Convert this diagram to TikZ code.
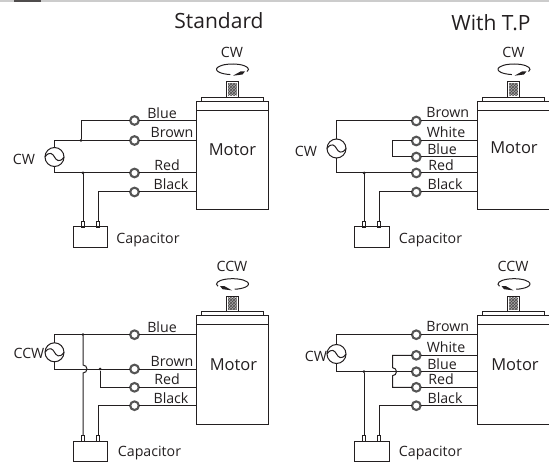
\documentclass[tikz,border=0pt]{standalone}
\usepackage{fontspec}
\setmainfont{Open Sans}
\usetikzlibrary{patterns}
\definecolor{ink}{HTML}{231F20}
\definecolor{ringc}{HTML}{555555}
\tikzset{
  x=1pt,y=-1pt,
  wire/.style={draw=ink,line width=1pt},
  term/.style={circle,draw=ringc,fill=white,line width=2.1pt,minimum size=8.6pt,inner sep=0pt,outer sep=0pt},
  dotj/.style={circle,fill=ink,minimum size=3pt,inner sep=0pt,outer sep=0pt},
  src/.style={circle,draw=ink,line width=1pt,minimum size=19pt,inner sep=0pt,outer sep=0pt},
  pin/.style={rectangle,draw=ink,line width=0.9pt,minimum width=3.5pt,minimum height=6pt,inner sep=0pt,outer sep=0pt},
  capbox/.style={rectangle,draw=ink,line width=1pt,minimum width=34.5pt,minimum height=21pt,inner sep=0pt,outer sep=0pt},
  lab/.style={text=ink,font=\fontsize{14.2}{14.2}\selectfont,inner sep=0pt},
  bigl/.style={text=ink,font=\fontsize{16.5}{16.5}\selectfont,inner sep=0pt},
  title/.style={text=ink,font=\fontsize{21}{21}\selectfont,inner sep=0pt},
  motorbox/.style={rectangle,draw=ink,line width=1pt,anchor=north west,inner sep=0pt,outer sep=0pt},
}
% #1 prefix, #2 left x, #3 top y, #4 width, #5 height
\newcommand{\motorblock}[5]{%
  \node[motorbox,minimum width=#4pt,minimum height=#5pt] (#1m) at (#2,#3) {};
  \draw[wire] (#2,#3+9) -- ++(#4,0);
  \draw[wire,fill=white] (#2+5.5,#3) rectangle ++(62,-4);
  \draw[wire,fill=white] (#2+30.5,#3-4) rectangle ++(11.5,-15.5);
  \fill[gray!70] (#2+32,#3-6) rectangle ++(8.5,-12);
  \fill[pattern=crosshatch,pattern color=ink!80] (#2+32,#3-6) rectangle ++(8.5,-12);
}
% #1 centre x, #2 centre y, #3 xscale
\newcommand{\rotsign}[3]{%
  \begin{scope}[shift={(#1,#2)},xscale=#3]
    \draw[wire] (0,0) ++(25:16 and 5.3) arc[start angle=25,end angle=-262,x radius=16,y radius=5.3];
    \fill[ink] (0.5,6.4) -- (8,2.2) -- (12.5,2) -- (10,5.2) -- cycle;
  \end{scope}
}
% #1 node name, #2 x, #3 y
\newcommand{\acsource}[3]{%
  \node[src] (#1) at (#2,#3) {};
  \draw[wire] (#2-9.5,#3) .. controls (#2-5,#3-6.5) and (#2-1.5,#3-3) .. (#2,#3)
     .. controls (#2+1.5,#3+3) and (#2+5,#3+6.5) .. (#2+9.5,#3);
}
\begin{document}
\begin{tikzpicture}
\clip[use as bounding box] (0,0) rectangle (549,462);
\fill[gray!40] (0,0) rectangle (549,2.5);
\fill[ink!80] (14,0) rectangle (41,2.5);

\node[title] (tstd) at (219,21) {Standard};
\node[title] (ttp) at (491,22.5) {With T.P};

%%% ---------- top left
\motorblock{a}{196}{101.5}{72.5}{108.5}
\rotsign{232.5}{69.3}{1}
\node[lab] (acw) at (232,52.5) {CW};
\node[bigl] (amot) at (232.5,150) {Motor};
\acsource{as}{54.5}{157}
\node[lab] (asl) at (24,159.5) {CW};
\node[term] (a1) at (134.5,120.5) {};
\node[term] (a2) at (134.5,140.5) {};
\node[term] (a3) at (134.5,173) {};
\node[term] (a4) at (134.5,192) {};
\coordinate (am1) at (196,120.5);
\coordinate (am2) at (196,140.5);
\coordinate (am3) at (196,173);
\coordinate (am4) at (196,192);
\node[dotj] (aj1) at (81,140.5) {};
\node[dotj] (aj2) at (83,173) {};
\node[capbox,anchor=north west] (ac) at (73,227) {};
\node[pin] (ap1) at (83,224) {};
\node[pin] (ap2) at (98,224) {};
\draw[wire] (a1) -- (am1) (a2) -- (am2) (a3) -- (am3) (a4) -- (am4);
\draw[wire] (a1) -| (aj1);
\draw[wire] (a2) -| (as);
\draw[wire] (a3) -| (as);
\draw[wire] (aj2) -- (ap1);
\draw[wire] (a4) -| (ap2);
\node[lab] (al1) at (162,113) {Blue};
\node[lab] (al2) at (172,133) {Brown};
\node[lab] (al3) at (167,165) {Red};
\node[lab] (al4) at (171,184.5) {Black};
\node[lab] (alc) at (148,239.5) {Capacitor};

%%% ---------- top right
\motorblock{b}{477.3}{101.5}{120}{108.5}
\rotsign{514}{69.3}{1}
\node[lab] (bcw) at (513.5,52.5) {CW};
\node[bigl] (bmot) at (514,147.5) {Motor};
\acsource{bs}{336.5}{148.5}
\node[lab] (bsl) at (306,151) {CW};
\node[term] (b1) at (416.3,121) {};
\node[term] (b2) at (416.3,141) {};
\node[term] (b3) at (416.3,157) {};
\node[term] (b4) at (416.3,173) {};
\node[term] (b5) at (416.3,192) {};
\coordinate (bm1) at (477.3,121);
\coordinate (bm2) at (477.3,141);
\coordinate (bm3) at (477.3,157);
\coordinate (bm4) at (477.3,173);
\coordinate (bm5) at (477.3,192);
\coordinate (bl1) at (392.5,141);
\coordinate (bl2) at (392.5,157);
\node[dotj] (bj) at (364,173) {};
\node[capbox,anchor=north west] (bc) at (354.5,227) {};
\node[pin] (bp1) at (364,224) {};
\node[pin] (bp2) at (379,224) {};
\draw[wire] (b1) -- (bm1) (b2) -- (bm2) (b3) -- (bm3) (b4) -- (bm4) (b5) -- (bm5);
\draw[wire] (b1) -| (bs);
\draw[wire] (b4) -| (bs);
\draw[wire] (b2) -- (bl1) -- (bl2) -- (b3);
\draw[wire] (bj) -- (bp1);
\draw[wire] (b5) -| (bp2);
\node[lab] (bl1t) at (447.7,112.5) {Brown};
\node[lab] (bl2t) at (446,132.5) {White};
\node[lab] (bl3t) at (442,149.5) {Blue};
\node[lab] (bl4t) at (441,165) {Red};
\node[lab] (bl5t) at (445,184.5) {Black};
\node[lab] (blc) at (430.5,239.5) {Capacitor};

%%% ---------- bottom left
\motorblock{c}{196}{315.7}{72.5}{108.5}
\rotsign{232.5}{284}{-1}
\node[lab] (ccw) at (232,266.5) {CCW};
\node[bigl] (cmot) at (233.5,364.5) {Motor};
\acsource{cs}{54.5}{352.3}
\node[lab] (csl) at (29,353) {CCW};
\node[term] (c1) at (134.5,334.7) {};
\node[term] (c2) at (134.5,369) {};
\node[term] (c3) at (134.5,387.3) {};
\node[term] (c4) at (134.5,405.7) {};
\coordinate (cm1) at (196,334.7);
\coordinate (cm2) at (196,369);
\coordinate (cm3) at (196,387.3);
\coordinate (cm4) at (196,405.7);
\node[dotj] (cj1) at (83,334.7) {};
\node[dotj] (cj2) at (100,369) {};
\coordinate (ch1) at (83,365);
\node[capbox,anchor=north west,minimum height=20pt] (cc) at (73,441) {};
\node[pin] (cp1) at (83,438) {};
\node[pin] (cp2) at (98,438) {};
\draw[wire] (c1) -- (cm1) (c2) -- (cm2) (c3) -- (cm3) (c4) -- (cm4);
\draw[wire] (c1) -| (cs);
\draw[wire] (c2) -| (cs);
\draw[wire] (cj1) -- (ch1) arc[start angle=-90,end angle=90,radius=4] -- (cp1);
\draw[wire] (c3) -| (cj2);
\draw[wire] (c4) -| (cp2);
\node[lab] (cl1) at (162,327) {Blue};
\node[lab] (cl2) at (172,361.5) {Brown};
\node[lab] (cl3) at (167,379) {Red};
\node[lab] (cl4) at (171,398) {Black};
\node[lab] (clc) at (149.5,452.5) {Capacitor};

%%% ---------- bottom right
\motorblock{d}{477.3}{315.7}{120}{108.5}
\rotsign{514}{284}{-1}
\node[lab] (dcw) at (513,266.5) {CCW};
\node[bigl] (dmot) at (515,364.5) {Motor};
\acsource{ds}{336.5}{354}
\node[lab] (dsl) at (316,356) {CW};
\node[term] (d1) at (416.3,334.7) {};
\node[term] (d2) at (416.3,355.3) {};
\node[term] (d3) at (416.3,371.7) {};
\node[term] (d4) at (416.3,387.3) {};
\node[term] (d5) at (416.3,405.7) {};
\coordinate (dm1) at (477.3,334.7);
\coordinate (dm2) at (477.3,355.3);
\coordinate (dm3) at (477.3,371.7);
\coordinate (dm4) at (477.3,387.3);
\coordinate (dm5) at (477.3,405.7);
\coordinate (dl1) at (392.5,355.3);
\coordinate (dl2) at (392.5,387.3);
\coordinate (dh1) at (392.5,367.7);
\node[dotj] (dj) at (364,371.7) {};
\node[capbox,anchor=north west,minimum height=20pt] (dc) at (354.5,441) {};
\node[pin] (dp1) at (364,438) {};
\node[pin] (dp2) at (379,438) {};
\draw[wire] (d1) -- (dm1) (d2) -- (dm2) (d3) -- (dm3) (d4) -- (dm4) (d5) -- (dm5);
\draw[wire] (d1) -| (ds);
\draw[wire] (d3) -| (ds);
\draw[wire] (d2) -- (dl1) -- (dh1) arc[start angle=-90,end angle=90,radius=4] -- (dl2) -- (d4);
\draw[wire] (dj) -- (dp1);
\draw[wire] (d5) -| (dp2);
\node[lab] (dl1t) at (447.7,327) {Brown};
\node[lab] (dl2t) at (446,347) {White};
\node[lab] (dl3t) at (442,364) {Blue};
\node[lab] (dl4t) at (441,379) {Red};
\node[lab] (dl5t) at (445,398) {Black};
\node[lab] (dlc) at (430.5,452.5) {Capacitor};
\end{tikzpicture}
\end{document}
